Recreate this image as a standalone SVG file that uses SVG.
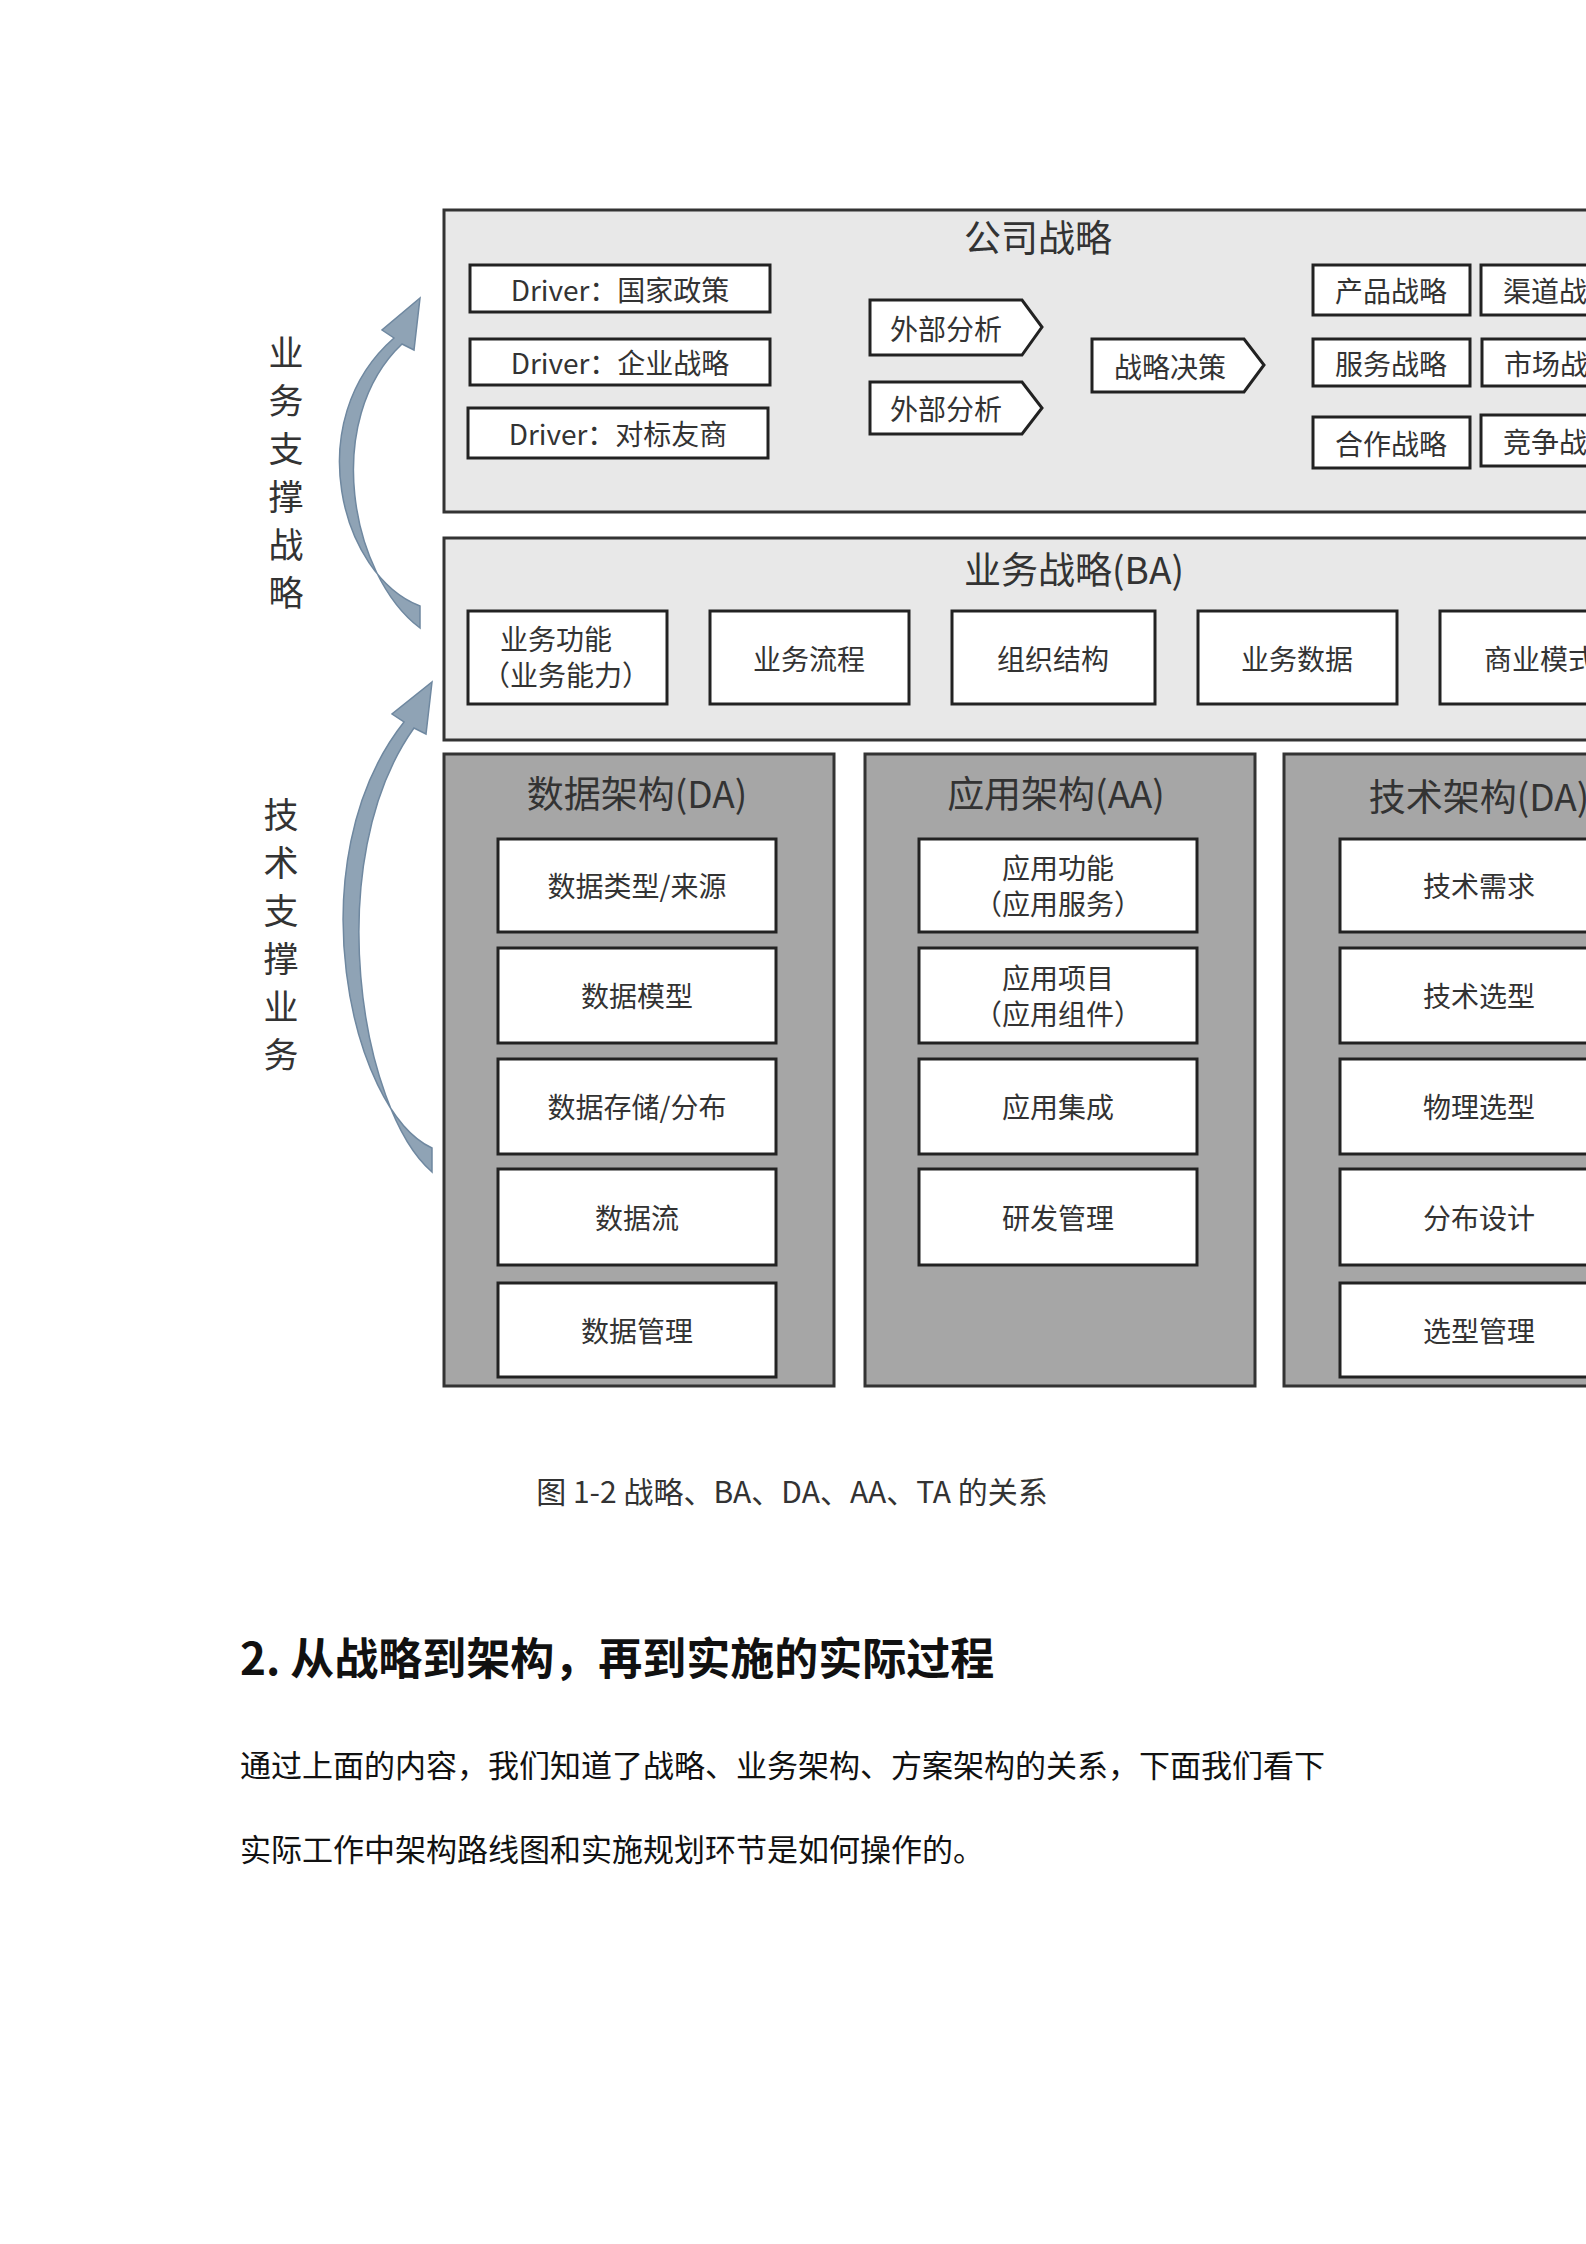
<svg xmlns="http://www.w3.org/2000/svg" width="1586" height="2244" viewBox="0 0 1586 2244">
<style>
text{font-family:"Noto Sans CJK SC","Noto Sans",sans-serif;fill:#333;text-anchor:middle;dominant-baseline:central}
.panel{fill:#e8e8e8;stroke:#333;stroke-width:3}
.col{fill:#a6a6a6;stroke:#333;stroke-width:3}
.box{fill:#fff;stroke:#222;stroke-width:3}
.t{font-size:28px}
.h{font-size:37px}
.v{font-size:35px}
.arr{fill:#8fa3b5;stroke:#6f88a0;stroke-width:1.5}
</style>
<rect width="1586" height="2244" fill="#fff"/>
<g id="side">
<text class="v" x="286" y="350">业</text><text class="v" x="286" y="398">务</text><text class="v" x="286" y="446">支</text><text class="v" x="286" y="494">撑</text><text class="v" x="286" y="542">战</text><text class="v" x="286" y="590">略</text>
<text class="v" x="281" y="812">技</text><text class="v" x="281" y="860">术</text><text class="v" x="281" y="908">支</text><text class="v" x="281" y="956">撑</text><text class="v" x="281" y="1004">业</text><text class="v" x="281" y="1052">务</text>
</g>
<g id="connectors">
<path class="arr" d="M420,606 C340,575 300,420 394,338 L382,330 L420,298 L414,350 L402,344 C322,420 350,575 420,628 Z"/>
<path class="arr" d="M432,1148 C350,1110 295,860 404,722 L392,714 L432,682 L426,734 L414,728 C320,860 360,1110 432,1172 Z"/>
</g>
<g id="corp">
<rect class="panel" x="444" y="210" width="1160" height="302"/>
<text class="h" x="1038" y="236">公司战略</text>
<rect class="box" x="470" y="265" width="300" height="47"/><text class="t" x="620" y="289">Driver：国家政策</text>
<rect class="box" x="470" y="339" width="300" height="46"/><text class="t" x="620" y="362">Driver：企业战略</text>
<rect class="box" x="468" y="408" width="300" height="50"/><text class="t" x="618" y="433">Driver：对标友商</text>
<path class="box" d="M870,300 H1022 L1042,327 L1022,355 H870 Z"/><text class="t" x="946" y="328">外部分析</text>
<path class="box" d="M870,382 H1022 L1042,408 L1022,434 H870 Z"/><text class="t" x="946" y="408">外部分析</text>
<path class="box" d="M1092,339 H1244 L1264,365 L1244,392 H1092 Z"/><text class="t" x="1170" y="366">战略决策</text>
<rect class="box" x="1313" y="265" width="157" height="50"/><text class="t" x="1391" y="290">产品战略</text>
<rect class="box" x="1481" y="265" width="157" height="50"/><text class="t" x="1559" y="290">渠道战略</text>
<rect class="box" x="1313" y="339" width="157" height="47"/><text class="t" x="1391" y="363">服务战略</text>
<rect class="box" x="1482" y="339" width="157" height="47"/><text class="t" x="1560" y="363">市场战略</text>
<rect class="box" x="1313" y="417" width="157" height="51"/><text class="t" x="1391" y="443">合作战略</text>
<rect class="box" x="1481" y="415" width="157" height="51"/><text class="t" x="1559" y="441">竞争战略</text>
</g>
<g id="ba">
<rect class="panel" x="444" y="538" width="1160" height="202"/>
<text class="h" x="1074" y="568">业务战略(BA)</text>
<rect class="box" x="468" y="611" width="199" height="93"/><text class="t" x="556" y="638">业务功能</text><text class="t" x="566" y="674">（业务能力）</text>
<rect class="box" x="710" y="611" width="199" height="93"/><text class="t" x="809" y="658">业务流程</text>
<rect class="box" x="952" y="611" width="203" height="93"/><text class="t" x="1053" y="658">组织结构</text>
<rect class="box" x="1198" y="611" width="199" height="93"/><text class="t" x="1297" y="658">业务数据</text>
<rect class="box" x="1440" y="611" width="200" height="93"/><text class="t" x="1540" y="658">商业模式</text>
</g>
<g id="da">
<rect class="col" x="444" y="754" width="390" height="632"/>
<text class="h" x="637" y="792">数据架构(DA)</text>
<rect class="box" x="498" y="839" width="278" height="93"/><text class="t" x="637" y="885">数据类型/来源</text>
<rect class="box" x="498" y="948" width="278" height="95"/><text class="t" x="637" y="995">数据模型</text>
<rect class="box" x="498" y="1059" width="278" height="95"/><text class="t" x="637" y="1106">数据存储/分布</text>
<rect class="box" x="498" y="1169" width="278" height="96"/><text class="t" x="637" y="1217">数据流</text>
<rect class="box" x="498" y="1283" width="278" height="94"/><text class="t" x="637" y="1330">数据管理</text>
</g>
<g id="aa">
<rect class="col" x="865" y="754" width="390" height="632"/>
<text class="h" x="1056" y="792">应用架构(AA)</text>
<rect class="box" x="919" y="839" width="278" height="93"/><text class="t" x="1058" y="867">应用功能</text><text class="t" x="1058" y="903">（应用服务）</text>
<rect class="box" x="919" y="948" width="278" height="95"/><text class="t" x="1058" y="977">应用项目</text><text class="t" x="1058" y="1013">（应用组件）</text>
<rect class="box" x="919" y="1059" width="278" height="95"/><text class="t" x="1058" y="1106">应用集成</text>
<rect class="box" x="919" y="1169" width="278" height="96"/><text class="t" x="1058" y="1217">研发管理</text>
</g>
<g id="ta">
<rect class="col" x="1284" y="754" width="390" height="632"/>
<text class="h" x="1479" y="795">技术架构(DA)</text>
<rect class="box" x="1340" y="839" width="278" height="93"/><text class="t" x="1479" y="885">技术需求</text>
<rect class="box" x="1340" y="948" width="278" height="95"/><text class="t" x="1479" y="995">技术选型</text>
<rect class="box" x="1340" y="1059" width="278" height="95"/><text class="t" x="1479" y="1106">物理选型</text>
<rect class="box" x="1340" y="1169" width="278" height="96"/><text class="t" x="1479" y="1217">分布设计</text>
<rect class="box" x="1340" y="1283" width="278" height="94"/><text class="t" x="1479" y="1330">选型管理</text>
</g>
<g id="text">
<text x="792" y="1490" style="font-size:30px">图 1-2 战略、BA、DA、AA、TA 的关系</text>
<text x="240" y="1656" style="font-size:44px;font-weight:bold;text-anchor:start;fill:#111">2. 从战略到架构，再到实施的实际过程</text>
<text x="240" y="1763" style="font-size:31px;text-anchor:start;fill:#111">通过上面的内容，我们知道了战略、业务架构、方案架构的关系，下面我们看下</text>
<text x="240" y="1847" style="font-size:31px;text-anchor:start;fill:#111">实际工作中架构路线图和实施规划环节是如何操作的。</text>
</g>
</svg>
